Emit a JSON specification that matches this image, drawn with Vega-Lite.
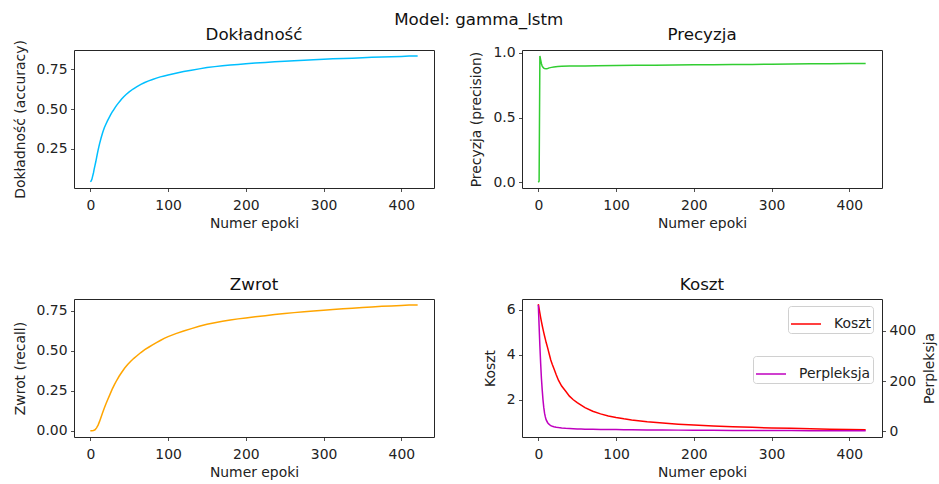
{
  "$schema": "https://vega.github.io/schema/vega-lite/v6.json",
  "autosize": {"type": "none"},
  "padding": {"left": 74, "top": 50, "right": 865, "bottom": 434},
  "background": "white",
  "title": {"text": "Model: gamma_lstm", "anchor": "middle", "frame": "bounds", "font": "DejaVu Sans", "fontSize": 16.7, "fontWeight": "normal", "color": "#111", "offset": -2, "dx": 4},
  "config": {
    "font": "DejaVu Sans",
    "view": {"stroke": "#262626", "strokeWidth": 1},
    "axis": {
      "grid": false, "domain": false,
      "tickColor": "#222", "tickSize": 3.5, "tickWidth": 0.8,
      "labelFont": "DejaVu Sans", "labelFontSize": 13.9, "labelColor": "#222", "labelPadding": 3.5,
      "titleFont": "DejaVu Sans", "titleFontSize": 13.9, "titleFontWeight": "normal", "titleColor": "#222", "titlePadding": 9
    },
    "axisX": {"labelPadding": 6.5, "titlePadding": 5},
    "title": {"font": "DejaVu Sans", "fontSize": 16.7, "fontWeight": "normal", "color": "#111", "anchor": "middle", "frame": "group", "offset": 5},
    "style": {"group-title": {"font": "DejaVu Sans", "fontSize": 16.7, "fontWeight": "normal"}}
  },
  "datasets": {
    "acc": [
      {"epoka": 0, "v": 0.045}, {"epoka": 1, "v": 0.05}, {"epoka": 2, "v": 0.06}, {"epoka": 3, "v": 0.08}, {"epoka": 4, "v": 0.1},
      {"epoka": 5, "v": 0.125}, {"epoka": 6, "v": 0.148}, {"epoka": 7, "v": 0.17}, {"epoka": 8, "v": 0.195}, {"epoka": 9, "v": 0.22},
      {"epoka": 10, "v": 0.243}, {"epoka": 11, "v": 0.265}, {"epoka": 12, "v": 0.285}, {"epoka": 14, "v": 0.322}, {"epoka": 16, "v": 0.355},
      {"epoka": 18, "v": 0.383}, {"epoka": 20, "v": 0.405}, {"epoka": 22, "v": 0.426}, {"epoka": 24, "v": 0.445}, {"epoka": 26, "v": 0.463},
      {"epoka": 28, "v": 0.48}, {"epoka": 30, "v": 0.495}, {"epoka": 32, "v": 0.51}, {"epoka": 34, "v": 0.524}, {"epoka": 36, "v": 0.537},
      {"epoka": 38, "v": 0.549}, {"epoka": 40, "v": 0.561}, {"epoka": 43, "v": 0.577}, {"epoka": 46, "v": 0.591}, {"epoka": 50, "v": 0.607},
      {"epoka": 55, "v": 0.625}, {"epoka": 60, "v": 0.64}, {"epoka": 65, "v": 0.654}, {"epoka": 70, "v": 0.666}, {"epoka": 75, "v": 0.676},
      {"epoka": 80, "v": 0.685}, {"epoka": 85, "v": 0.693}, {"epoka": 90, "v": 0.701}, {"epoka": 95, "v": 0.707}, {"epoka": 100, "v": 0.713},
      {"epoka": 110, "v": 0.724}, {"epoka": 120, "v": 0.734}, {"epoka": 130, "v": 0.743}, {"epoka": 140, "v": 0.751}, {"epoka": 150, "v": 0.759},
      {"epoka": 160, "v": 0.765}, {"epoka": 170, "v": 0.77}, {"epoka": 180, "v": 0.775}, {"epoka": 190, "v": 0.779}, {"epoka": 200, "v": 0.783},
      {"epoka": 212, "v": 0.787}, {"epoka": 225, "v": 0.791}, {"epoka": 237, "v": 0.795}, {"epoka": 250, "v": 0.798}, {"epoka": 262, "v": 0.801},
      {"epoka": 275, "v": 0.805}, {"epoka": 287, "v": 0.808}, {"epoka": 300, "v": 0.811}, {"epoka": 312, "v": 0.814}, {"epoka": 325, "v": 0.816},
      {"epoka": 337, "v": 0.818}, {"epoka": 350, "v": 0.82}, {"epoka": 362, "v": 0.823}, {"epoka": 375, "v": 0.825}, {"epoka": 387, "v": 0.827},
      {"epoka": 400, "v": 0.829}, {"epoka": 410, "v": 0.831}, {"epoka": 421, "v": 0.832}
    ],
    "prec": [
      {"epoka": 0, "v": 0.0}, {"epoka": 1, "v": 0.01}, {"epoka": 2, "v": 0.975}, {"epoka": 3, "v": 0.945}, {"epoka": 4, "v": 0.915},
      {"epoka": 5, "v": 0.897}, {"epoka": 6, "v": 0.887}, {"epoka": 7, "v": 0.881}, {"epoka": 8, "v": 0.878}, {"epoka": 10, "v": 0.877},
      {"epoka": 12, "v": 0.879}, {"epoka": 14, "v": 0.883}, {"epoka": 17, "v": 0.887}, {"epoka": 20, "v": 0.89}, {"epoka": 25, "v": 0.893},
      {"epoka": 30, "v": 0.895}, {"epoka": 40, "v": 0.897}, {"epoka": 50, "v": 0.898}, {"epoka": 60, "v": 0.898}, {"epoka": 75, "v": 0.9},
      {"epoka": 100, "v": 0.902}, {"epoka": 125, "v": 0.903}, {"epoka": 150, "v": 0.904}, {"epoka": 175, "v": 0.905}, {"epoka": 200, "v": 0.907},
      {"epoka": 225, "v": 0.908}, {"epoka": 250, "v": 0.909}, {"epoka": 275, "v": 0.91}, {"epoka": 300, "v": 0.911}, {"epoka": 325, "v": 0.913},
      {"epoka": 350, "v": 0.914}, {"epoka": 375, "v": 0.915}, {"epoka": 400, "v": 0.916}, {"epoka": 421, "v": 0.917}
    ],
    "rec": [
      {"epoka": 0, "v": 0.0}, {"epoka": 2, "v": 0.0}, {"epoka": 4, "v": 0.002}, {"epoka": 6, "v": 0.006}, {"epoka": 8, "v": 0.018},
      {"epoka": 10, "v": 0.035}, {"epoka": 12, "v": 0.06}, {"epoka": 14, "v": 0.088}, {"epoka": 16, "v": 0.115}, {"epoka": 18, "v": 0.142},
      {"epoka": 20, "v": 0.167}, {"epoka": 22, "v": 0.19}, {"epoka": 25, "v": 0.224}, {"epoka": 28, "v": 0.258}, {"epoka": 31, "v": 0.288},
      {"epoka": 34, "v": 0.315}, {"epoka": 37, "v": 0.34}, {"epoka": 40, "v": 0.362}, {"epoka": 44, "v": 0.39}, {"epoka": 48, "v": 0.413},
      {"epoka": 52, "v": 0.434}, {"epoka": 56, "v": 0.452}, {"epoka": 60, "v": 0.468}, {"epoka": 65, "v": 0.488}, {"epoka": 70, "v": 0.506},
      {"epoka": 75, "v": 0.521}, {"epoka": 80, "v": 0.536}, {"epoka": 85, "v": 0.55}, {"epoka": 90, "v": 0.563}, {"epoka": 95, "v": 0.576},
      {"epoka": 100, "v": 0.587}, {"epoka": 110, "v": 0.606}, {"epoka": 120, "v": 0.622}, {"epoka": 130, "v": 0.637}, {"epoka": 140, "v": 0.652},
      {"epoka": 150, "v": 0.664}, {"epoka": 160, "v": 0.674}, {"epoka": 170, "v": 0.683}, {"epoka": 180, "v": 0.691}, {"epoka": 190, "v": 0.698},
      {"epoka": 200, "v": 0.704}, {"epoka": 212, "v": 0.711}, {"epoka": 225, "v": 0.718}, {"epoka": 237, "v": 0.725}, {"epoka": 250, "v": 0.731},
      {"epoka": 262, "v": 0.737}, {"epoka": 275, "v": 0.742}, {"epoka": 287, "v": 0.747}, {"epoka": 300, "v": 0.752}, {"epoka": 312, "v": 0.756},
      {"epoka": 325, "v": 0.761}, {"epoka": 337, "v": 0.765}, {"epoka": 350, "v": 0.769}, {"epoka": 362, "v": 0.772}, {"epoka": 375, "v": 0.776},
      {"epoka": 387, "v": 0.779}, {"epoka": 400, "v": 0.782}, {"epoka": 410, "v": 0.784}, {"epoka": 421, "v": 0.785}
    ],
    "koszt": [
      {"epoka": 0, "koszt": 6.25, "perpleksja": 503}, {"epoka": 1, "koszt": 6.05, "perpleksja": 420}, {"epoka": 2, "koszt": 5.85, "perpleksja": 340},
      {"epoka": 3, "koszt": 5.65, "perpleksja": 270}, {"epoka": 4, "koszt": 5.47, "perpleksja": 210}, {"epoka": 5, "koszt": 5.3, "perpleksja": 165},
      {"epoka": 6, "koszt": 5.14, "perpleksja": 125}, {"epoka": 7, "koszt": 4.98, "perpleksja": 95}, {"epoka": 8, "koszt": 4.83, "perpleksja": 72},
      {"epoka": 9, "koszt": 4.69, "perpleksja": 57}, {"epoka": 10, "koszt": 4.55, "perpleksja": 46}, {"epoka": 12, "koszt": 4.3, "perpleksja": 34},
      {"epoka": 14, "koszt": 4.03, "perpleksja": 27}, {"epoka": 16, "koszt": 3.76, "perpleksja": 22}, {"epoka": 18, "koszt": 3.56, "perpleksja": 19.5},
      {"epoka": 20, "koszt": 3.38, "perpleksja": 18}, {"epoka": 23, "koszt": 3.1, "perpleksja": 16}, {"epoka": 26, "koszt": 2.85, "perpleksja": 14.5},
      {"epoka": 30, "koszt": 2.6, "perpleksja": 13}, {"epoka": 35, "koszt": 2.38, "perpleksja": 11.5}, {"epoka": 40, "koszt": 2.15, "perpleksja": 10.5},
      {"epoka": 45, "koszt": 1.99, "perpleksja": 9.8}, {"epoka": 50, "koszt": 1.86, "perpleksja": 9.2}, {"epoka": 55, "koszt": 1.75, "perpleksja": 8.7},
      {"epoka": 60, "koszt": 1.64, "perpleksja": 8.3}, {"epoka": 70, "koszt": 1.48, "perpleksja": 7.7}, {"epoka": 80, "koszt": 1.36, "perpleksja": 7.2},
      {"epoka": 90, "koszt": 1.27, "perpleksja": 6.8}, {"epoka": 100, "koszt": 1.2, "perpleksja": 6.4}, {"epoka": 110, "koszt": 1.14, "perpleksja": 6.1},
      {"epoka": 120, "koszt": 1.09, "perpleksja": 5.8}, {"epoka": 140, "koszt": 1.01, "perpleksja": 5.3}, {"epoka": 160, "koszt": 0.95, "perpleksja": 4.8},
      {"epoka": 180, "koszt": 0.9, "perpleksja": 4.4}, {"epoka": 200, "koszt": 0.86, "perpleksja": 4.0}, {"epoka": 225, "koszt": 0.82, "perpleksja": 3.6},
      {"epoka": 250, "koszt": 0.79, "perpleksja": 3.3}, {"epoka": 275, "koszt": 0.76, "perpleksja": 3.0}, {"epoka": 300, "koszt": 0.735, "perpleksja": 2.8},
      {"epoka": 325, "koszt": 0.715, "perpleksja": 2.6}, {"epoka": 350, "koszt": 0.695, "perpleksja": 2.4}, {"epoka": 375, "koszt": 0.68, "perpleksja": 2.2},
      {"epoka": 400, "koszt": 0.665, "perpleksja": 2.05}, {"epoka": 421, "koszt": 0.655, "perpleksja": 1.95}
    ]
  },
  "columns": 2,
  "spacing": {"row": 111, "column": 88},
  "bounds": "flush",
  "concat": [
    {
      "title": {"text": "Dokładność", "offset": -4},
      "width": 360, "height": 138,
      "data": {"name": "acc"},
      "mark": {"type": "line", "strokeWidth": 1.5, "color": "#00bfff"},
      "encoding": {
        "x": {"field": "epoka", "type": "quantitative", "scale": {"domain": [-21, 442], "nice": false, "zero": false}, "axis": {"title": "Numer epoki", "values": [0, 100, 200, 300, 400]}},
        "y": {"field": "v", "type": "quantitative", "scale": {"domain": [0.006, 0.869], "nice": false, "zero": false}, "axis": {"title": "Dokładność (accuracy)", "values": [0.25, 0.5, 0.75], "format": ".2f"}}
      }
    },
    {
      "title": {"text": "Precyzja", "offset": 2},
      "width": 360, "height": 138,
      "data": {"name": "prec"},
      "mark": {"type": "line", "strokeWidth": 1.5, "color": "#32cd32"},
      "encoding": {
        "x": {"field": "epoka", "type": "quantitative", "scale": {"domain": [-21, 442], "nice": false, "zero": false}, "axis": {"title": "Numer epoki", "values": [0, 100, 200, 300, 400]}},
        "y": {"field": "v", "type": "quantitative", "scale": {"domain": [-0.044, 1.021], "nice": false, "zero": false}, "axis": {"title": "Precyzja (precision)", "values": [0, 0.5, 1], "format": ".1f"}}
      }
    },
    {
      "title": "Zwrot",
      "width": 360, "height": 138,
      "data": {"name": "rec"},
      "mark": {"type": "line", "strokeWidth": 1.5, "color": "#ffa500"},
      "encoding": {
        "x": {"field": "epoka", "type": "quantitative", "scale": {"domain": [-21, 442], "nice": false, "zero": false}, "axis": {"title": "Numer epoki", "values": [0, 100, 200, 300, 400]}},
        "y": {"field": "v", "type": "quantitative", "scale": {"domain": [-0.039, 0.822], "nice": false, "zero": false}, "axis": {"title": "Zwrot (recall)", "values": [0, 0.25, 0.5, 0.75], "format": ".2f"}}
      }
    },
    {
      "title": "Koszt",
      "width": 360, "height": 138,
      "data": {"name": "koszt"},
      "layer": [
        {
          "mark": {"type": "line", "strokeWidth": 1.5},
          "encoding": {
            "x": {"field": "epoka", "type": "quantitative", "scale": {"domain": [-21, 442], "nice": false, "zero": false}, "axis": {"title": "Numer epoki", "values": [0, 100, 200, 300, 400]}},
            "y": {"field": "koszt", "type": "quantitative", "scale": {"domain": [0.33, 6.48], "nice": false, "zero": false}, "axis": {"title": "Koszt", "values": [2, 4, 6], "format": "d"}},
            "color": {"datum": "Koszt", "type": "nominal", "scale": {"range": ["#ff0000"]},
              "legend": {"title": null, "orient": "none", "legendX": 266, "legendY": 7, "symbolType": "stroke", "symbolSize": 900, "symbolStrokeWidth": 1.5, "labelFont": "DejaVu Sans", "labelFontSize": 13.9, "labelColor": "#222", "labelOffset": 12, "padding": 2, "fillColor": "rgba(255,255,255,0.8)", "strokeColor": "#d0d0d0", "cornerRadius": 3}}
          }
        },
        {
          "mark": {"type": "line", "strokeWidth": 1.5},
          "encoding": {
            "x": {"field": "epoka", "type": "quantitative", "scale": {"domain": [-21, 442], "nice": false, "zero": false}},
            "y": {"field": "perpleksja", "type": "quantitative", "scale": {"domain": [-23, 527], "nice": false, "zero": false}, "axis": {"title": "Perpleksja", "orient": "right", "values": [0, 200, 400], "format": "d", "titleAngle": 270, "titleBaseline": "top", "titlePadding": 7}},
            "color": {"datum": "Perpleksja", "type": "nominal", "scale": {"range": ["#bf00bf"]},
              "legend": {"title": null, "orient": "none", "legendX": 231, "legendY": 57, "symbolType": "stroke", "symbolSize": 900, "symbolStrokeWidth": 1.5, "labelFont": "DejaVu Sans", "labelFontSize": 13.9, "labelColor": "#222", "labelOffset": 12, "padding": 2, "fillColor": "rgba(255,255,255,0.8)", "strokeColor": "#d0d0d0", "cornerRadius": 3}}
          }
        }
      ],
      "resolve": {"scale": {"y": "independent", "color": "independent"}}
    }
  ]
}
